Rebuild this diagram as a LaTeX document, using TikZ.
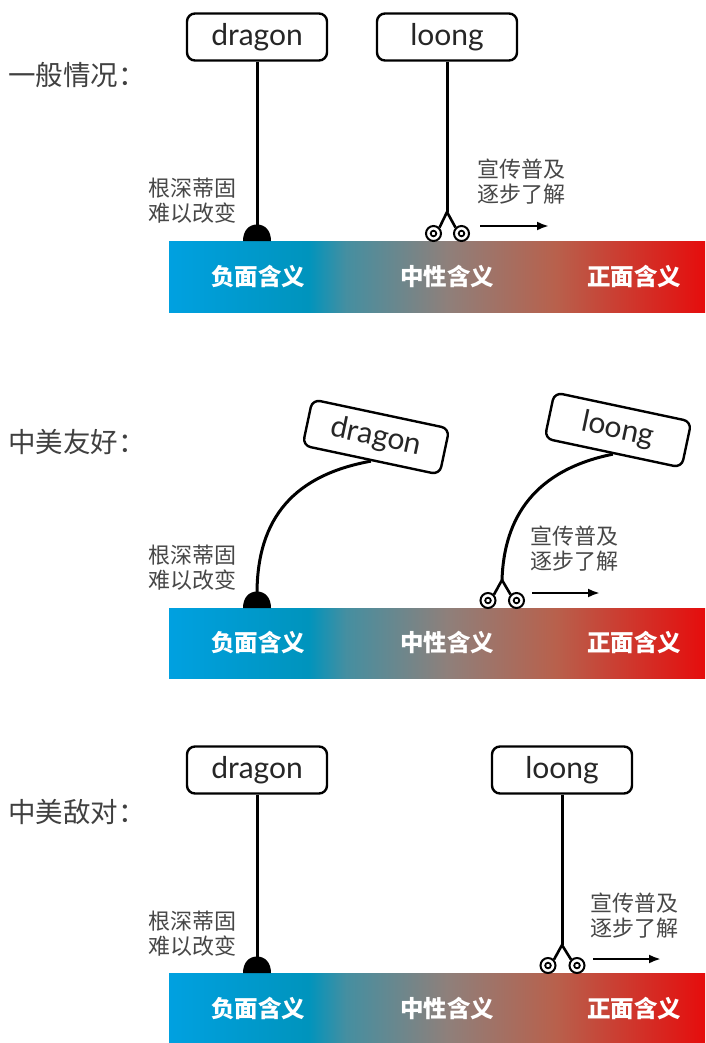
\documentclass[tikz,border=0pt]{standalone}
\usepackage{fontspec}
\newfontfamily\cjk{Noto Sans CJK SC}
\newfontfamily\lat{Lato}
\usetikzlibrary{arrows.meta}
\pgfdeclarehorizontalshading{meaning}{100bp}{rgb(0bp)=(0,0.63,0.88); rgb(25bp)=(0,0.63,0.88); rgb(38bp)=(0,0.58,0.74); rgb(41.5bp)=(0.27,0.56,0.63); rgb(51bp)=(0.56,0.5,0.48); rgb(61bp)=(0.72,0.38,0.3); rgb(75bp)=(0.9,0.05,0.05); rgb(100bp)=(0.9,0.05,0.05)}
\begin{document}
\begin{tikzpicture}[x=1pt,y=-1pt,
  word/.style={draw, line width=2.4pt, rounded corners=8pt, minimum width=140pt, minimum height=47pt, inner sep=0pt, font=\lat\fontsize{30}{32}\selectfont, text=black!85},
  stem/.style={line width=3pt},
  note/.style={font=\cjk\fontsize{22}{25}\selectfont, text=black!72, align=left, inner sep=0pt},
  head/.style={font=\cjk\fontsize{27.5}{30}\selectfont, text=black!75, inner sep=0pt, anchor=west},
  barlab/.style={font=\cjk\bfseries\fontsize{23.5}{28}\selectfont, text=white, inner sep=0pt},
  wheel/.style={circle, draw, line width=2pt, minimum size=15pt, inner sep=0pt},
  push/.style={line width=2.4pt, -{Latex[length=12pt,width=9pt]}},
  leg/.style={line width=2.6pt}]
\useasboundingbox (0,0) rectangle (705,1043);
\fill[white] (0,0) rectangle (705,1043);
%================ panel 1
\node[head] (hA) at (8,75) {一般情况：};
\node[word] (dA) at (257,37) {dragon};
\node[word] (lA) at (447,37) {loong};
\shade[shading=meaning] (169,241) rectangle (705,312);
\node[barlab] (nA1) at (258,277) {负面含义};
\node[barlab] (nA2) at (447,277) {中性含义};
\node[barlab] (nA3) at (634,277) {正面含义};
\coordinate (dAb) at (257,227);
\draw[stem] (dA.south) -- (dAb);
\fill (243,241) .. controls (243,230.5) and (249,224.5) .. (257,224.5) .. controls (265,224.5) and (271,230.5) .. (271,241) -- cycle;
\node[note, anchor=east] (rA) at (237,200.5) {根深蒂固\\难以改变};
\coordinate (fA) at (447,212);
\node[wheel] (wA1) at (433.5,233.5) {};
\node[wheel] (wA2) at (461.5,233.5) {};
\draw[line width=1.8pt] (wA1.center) circle (2.8) (wA2.center) circle (2.8);
\draw[stem] (lA.south) -- (fA);
\draw[leg] (wA1.north east) -- (fA) -- (wA2.north west);
\node[note, anchor=west] (pA) at (477,182) {宣传普及\\逐步了解};
\coordinate (aA1) at (480,226);
\coordinate (aA2) at (549,226);
\draw[push] (aA1) -- (aA2);
%================ panel 2
\begin{scope}[shift={(0,367)}]
\node[head] (hB) at (8,75) {中美友好：};
\node[word, rotate=-12] (dB) at (376,70) {dragon};
\node[word, rotate=-12] (lB) at (618,63) {loong};
\shade[shading=meaning] (169,241) rectangle (705,311);
\node[barlab] (nB1) at (258,276) {负面含义};
\node[barlab] (nB2) at (447,276) {中性含义};
\node[barlab] (nB3) at (634,276) {正面含义};
\coordinate (dBb) at (257,227);
\draw[stem] (dBb) .. controls (257,150) and (295,108) .. (dB.south);
\fill (243,241) .. controls (243,230.5) and (249,224.5) .. (257,224.5) .. controls (265,224.5) and (271,230.5) .. (271,241) -- cycle;
\node[note, anchor=east] (rB) at (237,200.5) {根深蒂固\\难以改变};
\coordinate (fB) at (502,213);
\node[wheel] (wB1) at (488,233.5) {};
\node[wheel] (wB2) at (516.5,233.5) {};
\draw[line width=1.8pt] (wB1.center) circle (2.8) (wB2.center) circle (2.8);
\draw[stem] (fB) .. controls (504,150) and (535,103) .. (lB.south);
\draw[leg] (wB1.north east) -- (fB) -- (wB2.north west);
\node[note, anchor=west] (pB) at (530,182) {宣传普及\\逐步了解};
\coordinate (aB1) at (532,226);
\coordinate (aB2) at (600,226);
\draw[push] (aB1) -- (aB2);
\end{scope}
%================ panel 3
\begin{scope}[shift={(0,732)}]
\node[head] (hC) at (8,80) {中美敌对：};
\node[word] (dC) at (257,38) {dragon};
\node[word] (lC) at (562,38) {loong};
\shade[shading=meaning] (169,241) rectangle (705,311);
\node[barlab] (nC1) at (258,277) {负面含义};
\node[barlab] (nC2) at (447,277) {中性含义};
\node[barlab] (nC3) at (634,277) {正面含义};
\coordinate (dCb) at (257,227);
\draw[stem] (dC.south) -- (dCb);
\fill (243,241) .. controls (243,230.5) and (249,224.5) .. (257,224.5) .. controls (265,224.5) and (271,230.5) .. (271,241) -- cycle;
\node[note, anchor=east] (rC) at (237,202) {根深蒂固\\难以改变};
\coordinate (fC) at (562,213);
\node[wheel] (wC1) at (548,233.5) {};
\node[wheel] (wC2) at (577,233.5) {};
\draw[line width=1.8pt] (wC1.center) circle (2.8) (wC2.center) circle (2.8);
\draw[stem] (lC.south) -- (fC);
\draw[leg] (wC1.north east) -- (fC) -- (wC2.north west);
\node[note, anchor=west] (pC) at (590,184) {宣传普及\\逐步了解};
\coordinate (aC1) at (593,227);
\coordinate (aC2) at (661,227);
\draw[push] (aC1) -- (aC2);
\end{scope}
\end{tikzpicture}
\end{document}
